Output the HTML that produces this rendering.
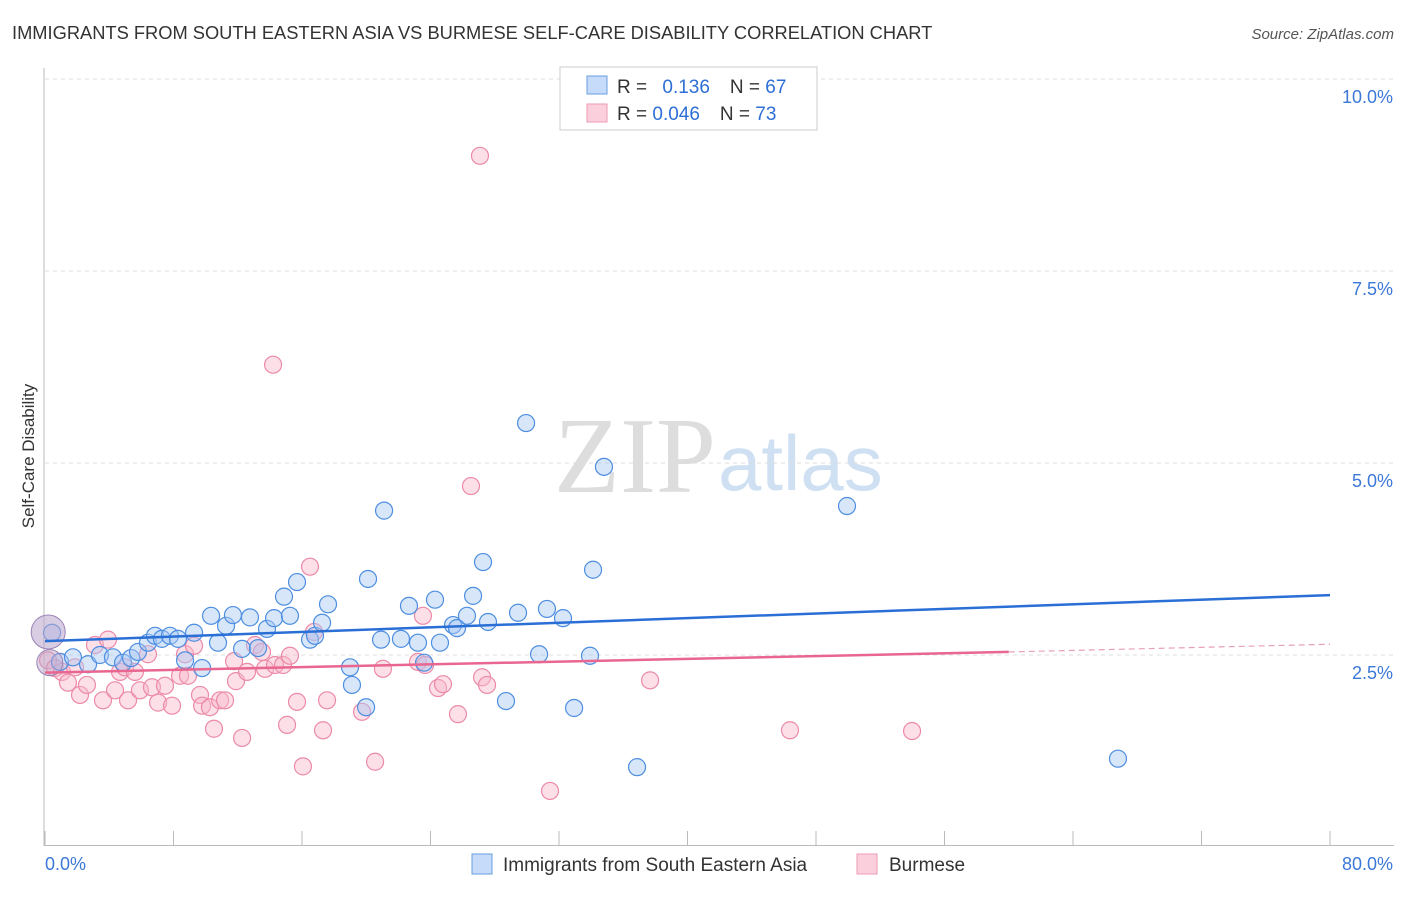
<!DOCTYPE html>
<html><head><meta charset="utf-8"><style>
body{margin:0;background:#fff;font-family:"Liberation Sans",sans-serif}
</style></head><body>
<svg id="chart" width="1406" height="892" xmlns="http://www.w3.org/2000/svg">
<text x="12" y="39" font-size="18.3" fill="#333">IMMIGRANTS FROM SOUTH EASTERN ASIA VS BURMESE SELF-CARE DISABILITY CORRELATION CHART</text>
<text x="1394" y="39" font-size="15" fill="#555" font-style="italic" text-anchor="end">Source: ZipAtlas.com</text>
<text x="716" y="492" font-size="108" fill="#ddd" text-anchor="end" font-family="Liberation Serif,serif">ZIP</text>
<text x="718" y="490" font-size="78" fill="#cfe0f3">atlas</text>
<g id="grid"></g><g id="axes"></g>
<text transform="translate(34,456) rotate(-90)" font-size="17" fill="#333" text-anchor="middle">Self-Care Disability</text>
<g id="pts"></g><g id="lines"></g>
<g>
<rect x="560" y="67" width="257" height="63" fill="#fff" stroke="#ccc"/>
<rect x="587" y="76" width="20" height="18" fill="#c6dafa" stroke="#6a9ee0"/>
<rect x="587" y="104" width="20" height="18" fill="#fbd0dc" stroke="#ee9ab3"/>
<text x="617" y="93" font-size="19" fill="#333">R = <tspan fill="#2d6fd6" dx="10">0.136</tspan><tspan dx="20" fill="#333">N = </tspan><tspan fill="#2d6fd6">67</tspan></text>
<text x="617" y="120" font-size="19" fill="#333">R = <tspan fill="#2d6fd6">0.046</tspan><tspan dx="20" fill="#333">N = </tspan><tspan fill="#2d6fd6">73</tspan></text>
</g>
<g>
<rect x="472" y="854" width="20" height="20" fill="#c6dafa" stroke="#6a9ee0"/>
<text x="503" y="871" font-size="19" fill="#333">Immigrants from South Eastern Asia</text>
<rect x="857" y="854" width="20" height="20" fill="#fbd0dc" stroke="#ee9ab3"/>
<text x="889" y="871" font-size="19" fill="#333">Burmese</text>
</g>
<text x="45" y="870" font-size="18" fill="#3b78d8">0.0%</text>
<text x="1393" y="870" font-size="18" fill="#3b78d8" text-anchor="end">80.0%</text>
</svg>
<script>
const yTicks=[2.5,5.0,7.5,10.0];
const xTicks=[0,8,16,24,32,40,48,56,64,72,80];
const blueX=[0.44,0.93,1.74,2.68,3.42,4.23,4.86,5.36,5.79,6.41,6.85,7.28,7.78,8.28,8.72,9.28,9.78,10.34,10.77,11.27,11.70,12.27,12.76,13.26,13.82,14.26,14.88,15.25,15.69,16.50,16.81,17.25,17.62,18.99,19.11,19.99,20.11,20.92,21.11,22.16,22.66,23.22,23.60,24.28,24.59,25.40,25.65,26.27,26.65,27.27,27.58,28.70,29.45,29.95,30.76,31.25,32.25,32.94,33.93,34.12,34.80,36.86,49.93,66.80];
const blueY=[2.79,2.41,2.47,2.38,2.50,2.47,2.40,2.46,2.54,2.66,2.75,2.71,2.75,2.71,2.43,2.79,2.33,3.01,2.66,2.88,3.02,2.58,2.99,2.59,2.84,2.98,3.26,3.01,3.45,2.70,2.75,2.92,3.16,2.34,2.11,1.82,3.49,2.70,4.38,2.71,3.14,2.66,2.40,3.22,2.66,2.89,2.85,3.01,3.27,3.71,2.93,1.90,3.05,5.52,2.51,3.10,2.98,1.81,2.49,3.61,4.95,1.04,4.44,1.15];
const pinkX=[0.19,0.62,1.06,1.43,1.87,2.18,2.61,3.11,3.61,3.92,4.36,4.67,4.98,5.17,5.60,5.91,6.41,6.66,7.04,7.47,7.91,8.41,8.72,8.90,9.28,9.65,9.78,10.27,10.52,10.90,11.21,11.77,11.89,12.27,12.58,13.07,13.51,13.70,14.20,14.32,14.82,15.07,15.25,15.69,16.06,16.50,16.75,17.31,17.56,19.74,20.55,21.04,23.22,23.53,23.66,24.47,24.78,25.71,26.52,27.08,27.21,27.52,31.44,37.67,46.38,53.98];
const pinkY=[2.43,2.33,2.28,2.14,2.34,1.98,2.11,2.63,1.91,2.70,2.04,2.28,2.34,1.91,2.28,2.04,2.51,2.08,1.88,2.10,1.84,2.23,2.51,2.23,2.62,1.98,1.84,1.82,1.54,1.91,1.91,2.42,2.16,1.42,2.28,2.63,2.54,2.32,6.28,2.37,2.37,1.59,2.49,1.89,1.05,3.65,2.80,1.52,1.91,1.76,1.11,2.32,2.41,3.01,2.37,2.07,2.12,1.73,4.70,9.00,2.21,2.11,0.73,2.17,1.52,1.51];
const blueTrend=[2.68,3.28];
const pinkTrend=[2.27,2.54,2.64];
const sx=v=>45+v/80*1285, sy=v=>847-v*76.8;
const NS="http://www.w3.org/2000/svg";
function mk(t,a,p){const e=document.createElementNS(NS,t);for(const k in a)e.setAttribute(k,a[k]);p.appendChild(e);return e;}
const grid=document.getElementById('grid'),axes=document.getElementById('axes');
yTicks.forEach(v=>{
 const l=mk('line',{x1:45,x2:1394,y1:sy(v),y2:sy(v),stroke:'#ddd','stroke-dasharray':'4,4'},grid);
 
 
 const t=mk('text',{x:1393,y:sy(v)+24,'font-size':18,fill:'#3b78d8','text-anchor':'end'},grid);
 t.textContent=v.toFixed(1)+'%';
 
 
});
mk('line',{x1:44,x2:44,y1:68,y2:846,stroke:'#bbb'},axes);
mk('line',{x1:44,x2:1394,y1:845.5,y2:845.5,stroke:'#bbb'},axes);
xTicks.forEach(v=>{
 const l=mk('line',{x1:sx(v),x2:sx(v),y1:831,y2:845,stroke:'#bbb'},axes);
 
 
});
const pts=document.getElementById('pts');
function dots(X,Y,fill,stroke,name){X.forEach((x,i)=>{
 const c=mk('circle',{cx:sx(x),cy:sy(Y[i]),r:8.5,fill:fill,'fill-opacity':0.45,stroke:stroke,'stroke-width':1.2},pts);
 
 
});}
dots(pinkX,pinkY,'#f8b7ca','#ec8aa8','burmese-point');
dots(blueX,blueY,'#a9c8f3','#4d8ee0','sea-point');
const big=mk('circle',{cx:sx(0.2),cy:sy(2.8),r:17,fill:'#b9a4cc','fill-opacity':0.55,stroke:'#9b83b5'},pts);


const big2=mk('circle',{cx:sx(0.3),cy:sy(2.4),r:13,fill:'#b9a4cc','fill-opacity':0.45,stroke:'#9b83b5'},pts);


const lines=document.getElementById('lines');
const bl=mk('line',{x1:sx(0),y1:sy(blueTrend[0]),x2:sx(80),y2:sy(blueTrend[1]),stroke:'#2a6fd6','stroke-width':2.5},lines);


const pl=mk('line',{x1:sx(0),y1:sy(pinkTrend[0]),x2:sx(60),y2:sy(pinkTrend[1]),stroke:'#e8668f','stroke-width':2.5},lines);


const pd=mk('line',{x1:sx(60),y1:sy(pinkTrend[1]),x2:sx(80),y2:sy(pinkTrend[2]),stroke:'#e8a0b5','stroke-width':1.2,'stroke-dasharray':'6,4'},lines);


</script>
</body></html>
